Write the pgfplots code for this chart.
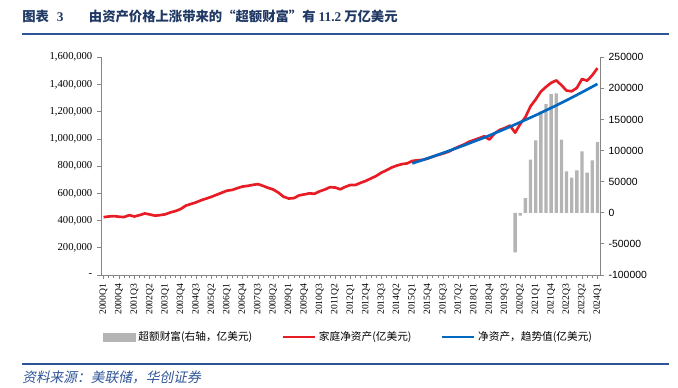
\documentclass[border=0pt]{standalone}
\usepackage{fontspec}
\usepackage{pgfplots}
\pgfplotsset{compat=1.18}
\setmainfont{Liberation Serif}
\setsansfont{Liberation Sans}
\newfontfamily\cjk{Noto Sans CJK SC}
\newfontfamily\cjkit[FakeSlant=0.2]{Noto Sans CJK SC}
\definecolor{redl}{RGB}{232,28,36}
\definecolor{bluel}{RGB}{0,104,192}
\definecolor{barcol}{RGB}{180,180,180}
\definecolor{axcol}{RGB}{134,134,134}
\definecolor{navy}{RGB}{31,56,100}
\definecolor{rulecol}{RGB}{47,85,151}
\begin{document}
\begin{tikzpicture}
\path[use as bounding box] (0pt,0pt) rectangle (508.5pt,290.25pt);
% title
\node[anchor=west, inner sep=0pt, text=navy] at (16.5pt,278.25pt)
  {\cjk\bfseries 图表\hspace{6pt}{\rmfamily\bfseries 3}\hspace{19pt}由资产价格上涨带来的“超额财富”有 {\rmfamily\bfseries 11.2} 万亿美元};
\draw[rulecol, line width=1.5pt] (16.5pt,264.4pt) -- (501.75pt,264.4pt);
\draw[rulecol, line width=1.5pt] (16.5pt,17.6pt) -- (501.75pt,17.6pt);
\node[anchor=west, inner sep=0pt, text=rulecol] at (16.5pt,7.5pt)
  {\cjkit\fontsize{10.3}{11}\selectfont 资料来源：美联储，华创证券};
% right axis: bars
\begin{axis}[
  at={(75.75pt,84pt)}, anchor=south west,
  scale only axis, width=374.25pt, height=163.3pt,
  xmin=-0.5, xmax=96.5, ymin=-100000, ymax=250000,
  axis x line=none, axis y line*=right,
  axis line style={axcol, line width=0.7pt},
  ytick={-100000,-50000,0,50000,100000,150000,200000,250000},
  yticklabels={-100000,-50000,0,50000,100000,150000,200000,250000},
  scaled y ticks=false,
  tick align=outside, major tick length=3pt,
  tick style={axcol, line width=0.6pt},
  yticklabel style={font=\sffamily\fontsize{7.8}{9}\selectfont, text=black},
]
\addplot[ybar, bar width=2.5pt, fill=barcol, draw=none] coordinates {
(80,-63500) (81,-4400) (82,23500) (83,85500) (84,116600) (85,162300)
(86,174700) (87,190800) (88,192000) (89,117700) (90,66600) (91,56400)
(92,68200) (93,98900) (94,64500) (95,84400) (96,113400)
};
\end{axis}
% left axis: lines
\begin{axis}[
  at={(75.75pt,84pt)}, anchor=south west,
  scale only axis, width=374.25pt, height=163.3pt,
  xmin=-0.5, xmax=96.5, ymin=0, ymax=1600000,
  axis y line*=left, axis x line*=bottom,
  axis line style={axcol, line width=0.7pt, -},
  ytick={0,200000,400000,600000,800000,1000000,1200000,1400000,1600000},
  yticklabels={{-},{200,000},{400,000},{600,000},{800,000},{1,000,000},{1,200,000},{1,400,000},{1,600,000}},
  scaled y ticks=false,
  xtick={0,3,...,96},
  minor xtick={0,1,...,96},
  xticklabels={2000Q1,2000Q4,2001Q3,2002Q2,2003Q1,2003Q4,2004Q3,2005Q2,2006Q1,2006Q4,2007Q3,2008Q2,2009Q1,2009Q4,2010Q3,2011Q2,2012Q1,2012Q4,2013Q3,2014Q2,2015Q1,2015Q4,2016Q3,2017Q2,2018Q1,2018Q4,2019Q3,2020Q2,2021Q1,2021Q4,2022Q3,2023Q2,2024Q1},
  tick align=outside, major tick length=3pt, minor tick length=2.5pt,
  tick style={axcol, line width=0.6pt},
  xticklabel style={rotate=90, anchor=east, font=\fontsize{7.2}{8}\selectfont, text=black},
  yticklabel style={font=\fontsize{8}{9}\selectfont, text=black},
  legend image code/.code={\draw[#1] (0pt,0pt) -- (24pt,0pt);},
  legend style={draw=none, fill=none, at={(0.497,-0.285)}, anchor=center,
    font=\cjk\fontsize{8}{9}\selectfont, legend columns=3,
    /tikz/every even column/.append style={column sep=20pt}},
  legend cell align=left,
]
\addlegendimage{legend image code/.code={\fill[barcol] (0pt,-3pt) rectangle (24pt,3pt);}}
\addlegendentry{超额财富(右轴，亿美元)}
\addplot[redl, line width=2pt, line join=round] coordinates {
(0,425000) (1,430000) (2,433000) (3,428000) (4,426000) (5,440000) (6,430000) (7,440000)
(8,452000) (9,445000) (10,436000) (11,440000) (12,446000) (13,460000) (14,470000) (15,485000)
(16,510000) (17,522000) (18,534000) (19,550000) (20,562000) (21,575000) (22,590000) (23,605000)
(24,620000) (25,625000) (26,638000) (27,650000) (28,655000) (29,662000) (30,668000) (31,655000)
(32,640000) (33,628000) (34,605000) (35,575000) (36,562000) (37,565000) (38,585000) (39,592000)
(40,600000) (41,597000) (42,615000) (43,628000) (44,645000) (45,643000) (46,630000) (47,648000)
(48,662000) (49,662000) (50,678000) (51,692000) (52,710000) (53,728000) (54,752000) (55,770000)
(56,790000) (57,804000) (58,815000) (59,820000) (60,838000) (61,843000) (62,846000) (63,856000)
(64,870000) (65,882000) (66,893000) (67,905000) (68,925000) (69,943000) (70,958000) (71,978000)
(72,992000) (73,1005000) (74,1020000) (75,995000) (76,1040000) (77,1066000) (78,1080000) (79,1098000)
(80,1046000) (81,1110000) (82,1160000) (83,1240000) (84,1290000) (85,1348000) (86,1382000) (87,1412000)
(88,1430000) (89,1395000) (90,1355000) (91,1350000) (92,1375000) (93,1440000) (94,1428000) (95,1468000)
(96,1520000)
};
\addlegendentry{家庭净资产(亿美元)}
\addplot[bluel, line width=2pt, line join=round] coordinates {
(60,820000) (62,845000) (64,870000) (66,897000) (68,924000) (70,952000) (72,981000)
(74,1010000) (76,1041000) (78,1073000) (80,1106000) (82,1140000) (84,1174000)
(86,1210000) (88,1246000) (90,1284000) (92,1323000) (94,1363000) (96,1404000)
};
\addlegendentry{净资产，趋势值(亿美元)}
\end{axis}
\end{tikzpicture}
\end{document}
